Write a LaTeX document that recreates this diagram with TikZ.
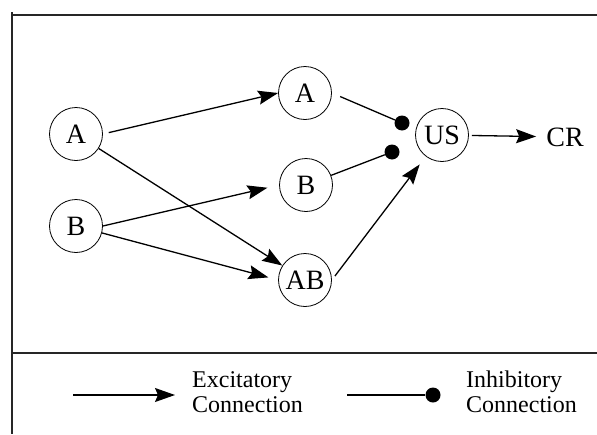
\documentclass[tikz,border=0pt]{standalone}
\usepackage{fontspec}
\setmainfont{Liberation Serif}
\usetikzlibrary{arrows.meta}

\begin{document}
\begin{tikzpicture}[x=1pt,y=-1pt,
  unit/.style={draw,circle,line width=0.8pt,minimum size=53pt,inner sep=0pt,
               font=\fontsize{28}{30}\selectfont},
  exc/.style={line width=1.3pt,-{Stealth[length=20pt,width=14pt,inset=3pt]}},
  inh/.style={line width=1.3pt},
  dot/.style={circle,fill=black,minimum size=15pt,inner sep=0pt},
  lbl/.style={font=\fontsize{24}{25}\selectfont,align=left,anchor=west,inner sep=0pt},
  frame/.style={line width=1.4pt,draw=black!85}]

\useasboundingbox (0,0) rectangle (597,434);
\draw[frame] (12,12) -- (12,434);
\draw[frame] (12,15) -- (597,15);
\draw[frame] (12,353) -- (597,353);

% stimulus units
\node[unit] (la) at (76,134) {A};
\node[unit] (lb) at (76,226) {B};

% configural layer
\node[unit] (ma) at (305,93) {A};
\node[unit] (mb) at (306,185) {B};
\node[unit] (ab) at (305,280) {AB};

\node[unit] (us) at (442,135) {US};
\node[font=\fontsize{28}{30}\selectfont,inner sep=0pt] (cr) at (565,137) {CR};
\node[dot] (da) at (402,123) {};
\node[dot] (db) at (392,152) {};

\draw[exc,shorten <=6pt] (la.east) -- (ma.west);
\draw[exc] (la) -- (ab);
\draw[exc,shorten >=12pt] (lb.east) -- (mb.west);
\draw[exc,shorten >=10pt] (lb) -- (ab.west);
\draw[exc,shorten <=5pt,shorten >=10pt] (ab.east) -- (us);
\draw[exc,shorten <=3pt,shorten >=10pt] (us) -- (cr);
\draw[inh,shorten <=9pt] (ma.east) -- (da);
\draw[inh] (mb) -- (db);

% legend
\coordinate (exb) at (73,395);
\node[lbl] (extxt) at (192,392) {Excitatory\\Connection};
\draw[exc,shorten >=17pt] (exb) -- (exb -| extxt.west);

\coordinate (ihb) at (347,395);
\node[dot] (ihdot) at (433,395) {};
\node[lbl] (ihtxt) at (466,392) {Inhibitory\\Connection};
\draw[inh] (ihb) -- (ihdot);
\end{tikzpicture}
\end{document}
